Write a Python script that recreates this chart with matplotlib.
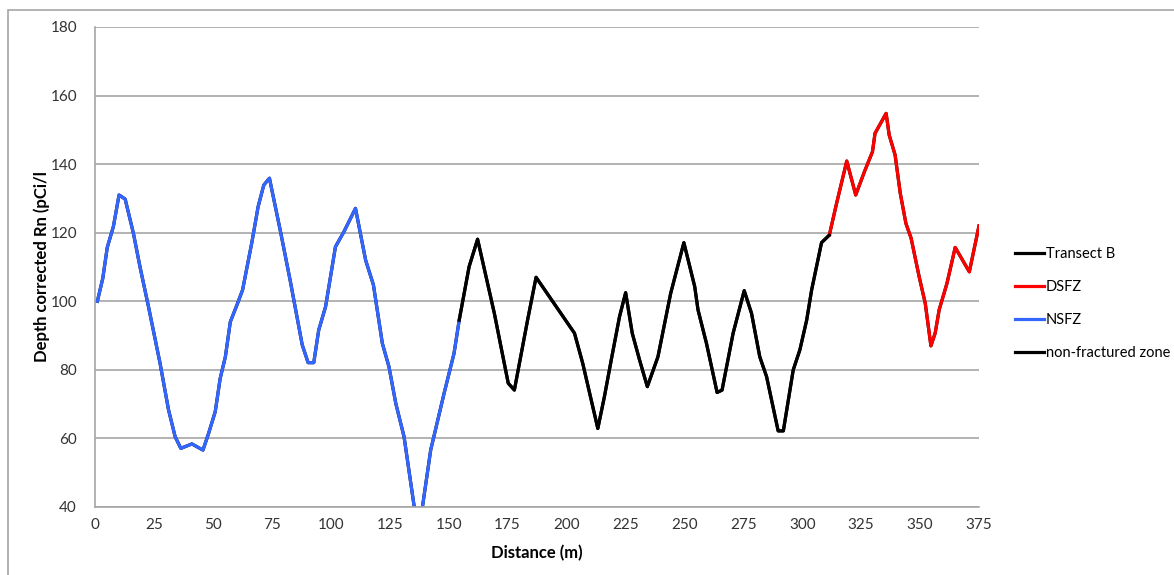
import matplotlib.pyplot as plt
from matplotlib.lines import Line2D
from matplotlib.patches import Rectangle

plt.rcParams['font.family'] = ['Lato', 'DejaVu Sans']

# radon along transect B, split by zone
nsfz_dist = [1, 3.3, 5.2, 7.8, 10.2, 12.8, 16.3, 19.1, 22.7, 27.6, 31.2, 34, 36.4,
             41.1, 45.8, 48.2, 51, 53.1, 55.3, 57.4, 60.2, 62.6, 66.6, 69.2, 71.6,
             74, 78.7, 82.9, 87.9, 90.4, 92.8, 94.9, 97.8, 102, 105.6, 110.5, 114.8,
             118.1, 121.9, 124.7, 127.6, 131.1, 135.3, 137, 138.9, 142.4, 148.1,
             152.3, 154.5]
nsfz_rn = [100, 106.7, 115.7, 121.8, 131, 129.8, 119.8, 110, 98.4, 81.9, 68.3, 60.5,
           57.1, 58.4, 56.6, 61.5, 67.8, 77.5, 83.8, 94, 98.9, 103.3, 117.4, 127.6,
           133.9, 135.9, 120.3, 105.7, 87.3, 82.1, 82.1, 91.6, 98.4, 115.9, 120.3,
           127.1, 112, 104.8, 87.7, 80.9, 70.2, 60.5, 40.6, 36, 40, 56.6, 73.2,
           84.8, 94.5]

nfz_dist = [154.5, 158.7, 162.3, 169.4, 172.2, 175.3, 177.9, 183.5, 187.1, 203.4,
            206.9, 213.3, 216.1, 219, 222.5, 225.1, 227.9, 231, 234.3, 238.8, 244.2,
            249.8, 254.4, 255.8, 259.4, 263.9, 266, 270.7, 275.4, 278.5, 282, 284.9,
            289.8, 292, 296.2, 299, 301.9, 304, 308.2, 311.5]
nfz_rn = [94.5, 110.1, 118.1, 96.5, 86.8, 76.1, 74.1, 94.5, 107, 90.7, 81.9, 62.9,
          72.2, 82.9, 95.5, 102.5, 90.7, 82.9, 75.1, 83.8, 102.3, 117.1, 104.3, 97.5,
          87.7, 73.4, 74.1, 90.7, 103.1, 96.5, 83.8, 78, 62.2, 62.2, 80, 85.8, 94.5,
          103.3, 117.1, 119.3]

dsfz_dist = [311.5, 314.6, 318.9, 322.7, 326.4, 329.8, 330.9, 335.6, 336.9, 339.4,
             341.6, 344, 346.2, 349.6, 352.2, 354.6, 356.4, 358.1, 361.4, 364.9,
             370.9, 375]
dsfz_rn = [119.3, 128.6, 140.9, 131, 137.8, 143.6, 149, 154.8, 148.5, 142.7, 131.5,
           122.7, 118.4, 107.2, 99.4, 87, 90.7, 97.5, 105.2, 115.7, 108.6, 122]

transect_dist = nsfz_dist + nfz_dist[1:] + dsfz_dist[1:]
transect_rn = nsfz_rn + nfz_rn[1:] + dsfz_rn[1:]

x_ticks = list(range(0, 376, 25))
y_ticks = list(range(40, 181, 20))

fig = plt.figure(figsize=(11.74, 5.75), dpi=100)
fig.patches.append(Rectangle((8 / 1174, -0.1), 1.2, 1 - 10 / 575 + 0.1,
                             transform=fig.transFigure, fill=False,
                             edgecolor='#a6a6a6', linewidth=1.2))
ax = fig.add_axes([95 / 1174, 1 - 507 / 575, (979 - 95) / 1174, 480 / 575])

lw = 2.3
ax.plot(transect_dist, transect_rn, color='black', lw=lw, label='Transect B')
ax.plot(dsfz_dist, dsfz_rn, color='#ff0000', lw=lw, label='DSFZ')
ax.plot(nsfz_dist, nsfz_rn, color='#3366ff', lw=lw, label='NSFZ')
ax.plot(nfz_dist, nfz_rn, color='black', lw=lw, label='non-fractured zone')

ax.set_xlim(0, 375)
ax.set_ylim(40, 180)
ax.set_xticks(x_ticks)
ax.set_yticks(y_ticks)
ax.tick_params(length=0, labelsize=11, colors='#333333')
ax.tick_params(axis='x', pad=8)
ax.tick_params(axis='y', pad=13)
ax.grid(axis='y', color='#a6a6a6', lw=1.2)
ax.set_axisbelow(True)
for side in ['top', 'right']:
    ax.spines[side].set_visible(False)
for side in ['left', 'bottom']:
    ax.spines[side].set_color('#a6a6a6')
    ax.spines[side].set_linewidth(1.2)

ax.set_xlabel('Distance (m)', fontsize=12, fontweight='bold', labelpad=9)
ax.set_ylabel('Depth corrected Rn (pCi/l', fontsize=12, fontweight='bold', labelpad=0)

handles = [Line2D([], [], color=c, lw=lw) for c in ['black', '#ff0000', '#3366ff', 'black']]
labels = ['Transect B', 'DSFZ', 'NSFZ', 'non-fractured zone']
fig.legend(handles, labels, loc='upper left', bbox_to_anchor=(1002 / 1174, 1 - 234 / 575),
           frameon=False, fontsize=10.5, handlelength=2.0, handletextpad=0.1,
           labelspacing=1.3)

fig.savefig('out.png', dpi=100)
